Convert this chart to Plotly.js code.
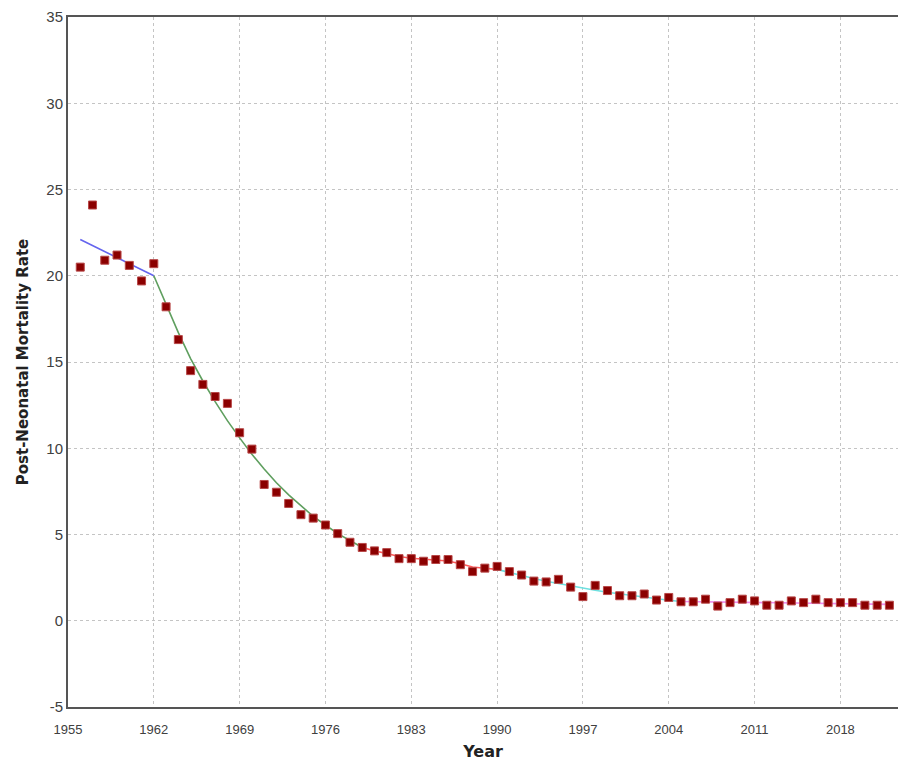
<!DOCTYPE html>
<html>
<head>
<meta charset="utf-8">
<script src="https://cdn.plot.ly/plotly-3.0.1.min.js"></script>
<style>html,body{margin:0;padding:0;background:#fff;}#chart{width:898px;height:767px;}</style>
</head>
<body>
<div id="chart"></div>
<script>
// Observed rates
const years = [1956,1957,1958,1959,1960,1961,1962,1963,1964,1965,1966,1967,1968,1969,1970,1971,1972,1973,1974,1975,1976,1977,1978,1979,1980,1981,1982,1983,1984,1985,1986,1987,1988,1989,1990,1991,1992,1993,1994,1995,1996,1997,1998,1999,2000,2001,2002,2003,2004,2005,2006,2007,2008,2009,2010,2011,2012,2013,2014,2015,2016,2017,2018,2019,2020,2021,2022];
const rates = [20.5,24.1,20.9,21.2,20.6,19.7,20.7,18.2,16.3,14.5,13.7,13.0,12.6,10.9,9.95,7.9,7.45,6.8,6.15,5.95,5.55,5.05,4.55,4.25,4.05,3.95,3.6,3.6,3.45,3.55,3.55,3.25,2.85,3.05,3.15,2.85,2.65,2.3,2.25,2.4,1.95,1.4,2.05,1.75,1.45,1.45,1.55,1.2,1.35,1.1,1.1,1.25,0.85,1.05,1.25,1.15,0.9,0.9,1.15,1.05,1.25,1.05,1.05,1.05,0.9,0.9,0.9];

// Fitted joinpoint segments
const seg1Years = [1956,1962];
const seg1Vals  = [22.1,20.0];
const seg2Years = [1962,1963,1964,1965,1966,1967,1968,1969,1970,1971,1972,1973,1974,1975,1976,1977,1978,1979];
const seg2Vals  = [20.0,18.3,16.7,15.2,13.9,12.7,11.6,10.6,9.65,8.8,8.0,7.3,6.65,6.05,5.55,5.05,4.65,4.25];
const seg3Years = [1979,1980,1981,1982,1983,1984,1985,1986,1987,1988,1989,1990];
const seg3Vals  = [4.25,4.05,3.9,3.72,3.62,3.56,3.52,3.46,3.3,3.12,3.04,2.98];
const seg4Years = [1990,1991,1992,1993,1994,1995,1996,1997,1998,1999,2000,2001,2002,2003,2004,2005];
const seg4Vals  = [2.98,2.79,2.61,2.45,2.29,2.15,2.01,1.88,1.77,1.65,1.55,1.45,1.36,1.27,1.19,1.12];
const seg5Years = [2005,2010,2015,2022];
const seg5Vals  = [1.12,1.07,1.02,0.95];

const xTicks = [1955,1962,1969,1976,1983,1990,1997,2004,2011,2018];
const yTicks = [-5,0,5,10,15,20,25,30,35];
const yTickText = ['-5','0','5','10','15','20','25','30','35'];

function seg(x, y, color) {
  return {x: x, y: y, type: 'scatter', mode: 'lines', line: {color: color, width: 1.6}, hoverinfo: 'skip', showlegend: false};
}

const data = [
  seg(seg1Years, seg1Vals, '#6464ee'),
  seg(seg2Years, seg2Vals, '#5f9f5f'),
  seg(seg3Years, seg3Vals, '#ff5a5a'),
  seg(seg4Years, seg4Vals, '#6ee0e0'),
  seg(seg5Years, seg5Vals, '#ee8aee'),
  {x: years, y: rates, type: 'scatter', mode: 'markers', showlegend: false,
   marker: {symbol: 'square', size: 8, color: '#8b0000', line: {color: '#b84848', width: 1}}}
];

const layout = {
  width: 898, height: 767,
  margin: {l: 68, r: 0, t: 17, b: 60},
  paper_bgcolor: '#ffffff', plot_bgcolor: '#ffffff',
  showlegend: false,
  xaxis: {
    range: [1955, 2022.7],
    tickvals: xTicks,
    ticktext: xTicks.map(String),
    showgrid: true, gridcolor: '#c4c4c4', griddash: 'dot', gridwidth: 1,
    zeroline: false,
    showline: true, linecolor: '#555555', linewidth: 2, mirror: true,
    ticks: 'outside', ticklen: 9, tickcolor: 'rgba(0,0,0,0)',
    tickfont: {family: 'Liberation Sans, Arial, sans-serif', size: 13, color: '#404040'},
    title: {text: 'Year', font: {family: 'DejaVu Sans, Verdana, sans-serif', size: 16, color: '#222', weight: 'bold'}, standoff: 10}
  },
  yaxis: {
    range: [-5, 35],
    tickvals: yTicks,
    ticktext: yTickText,
    showgrid: true, gridcolor: '#c4c4c4', griddash: 'dot', gridwidth: 1,
    zeroline: false,
    showline: true, linecolor: '#555555', linewidth: 2,
    ticks: '',
    tickfont: {family: 'Liberation Sans, Arial, sans-serif', size: 15, color: '#404040'},
    title: {text: 'Post-Neonatal Mortality Rate', font: {family: 'DejaVu Sans, Verdana, sans-serif', size: 15, color: '#222', weight: 'bold'}, standoff: 14}
  }
};

Plotly.newPlot('chart', data, layout, {displayModeBar: false, staticPlot: true});
</script>
</body>
</html>
